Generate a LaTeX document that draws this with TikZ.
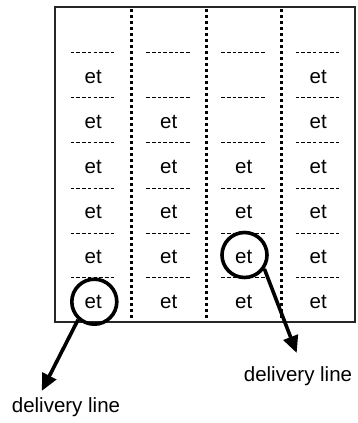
\documentclass[tikz,border=0pt]{standalone}
\usepackage{fontspec}
\setmainfont{Liberation Sans}
\usetikzlibrary{arrows.meta}
\begin{document}
\begin{tikzpicture}[x=1pt,y=-1pt,
  frame/.style={draw=black!85,line width=1.4pt},
  lane/.style={line width=3pt,dash pattern=on 3pt off 3pt},
  sep/.style={line width=0.9pt,dash pattern=on 3.6pt off 2.1pt},
  cell/.style={inner sep=0pt,font=\fontsize{20.5}{24}\selectfont},
  ring/.style={draw,circle,line width=3.6pt,minimum size=45pt,inner sep=0pt},
  pointer/.style={line width=3.6pt,-{Triangle[length=17pt,width=15pt]}},
  caption/.style={font=\fontsize{20.5}{24}\selectfont}]
\useasboundingbox (0,0) rectangle (357,423);
% outer frame
\draw[frame] (55,7) rectangle (355,322);
% lane dividers
\foreach \x in {131.5,206,281.5}
  \draw[lane] (\x,9) -- (\x,320.5);
% row separators in every lane
\foreach \cx in {93.25,168.75,243.75,318.25}
  \foreach \y in {52,97.5,142.5,188,233,277}
    \draw[sep] (\cx-22.5,\y) -- (\cx+22.5,\y);
% cell anchors (lane, row)
\foreach \c/\cx in {1/93.25,2/168.75,3/243.75,4/318.25}
  \foreach \r/\cy in {1/77,2/122,3/167,4/212,5/257,6/302}
    \node[cell] (c\c r\r) at (\cx,\cy) {};
% cell contents
\foreach \c/\r in {1/1,4/1,1/2,2/2,4/2,1/3,2/3,3/3,4/3,
                   1/4,2/4,3/4,4/4,1/5,2/5,3/5,4/5,1/6,2/6,3/6,4/6}
  \node[cell] at (c\c r\r) {et};
% highlighted cells
\node[ring] (ring1) at (94.3,301.7) {};
\node[ring] (ring2) at (244.5,255) {};
% captions and arrows
\node[caption] (lab1) at (66,407) {delivery line};
\node[caption] (lab2) at (298,376.5) {delivery line};
\coordinate (tip1) at (41.7,391);
\coordinate (tip2) at (296.7,353);
\draw[pointer] (ring1.228) -- (tip1);
\draw[pointer] (ring2.-35) -- (tip2);
\end{tikzpicture}
\end{document}
